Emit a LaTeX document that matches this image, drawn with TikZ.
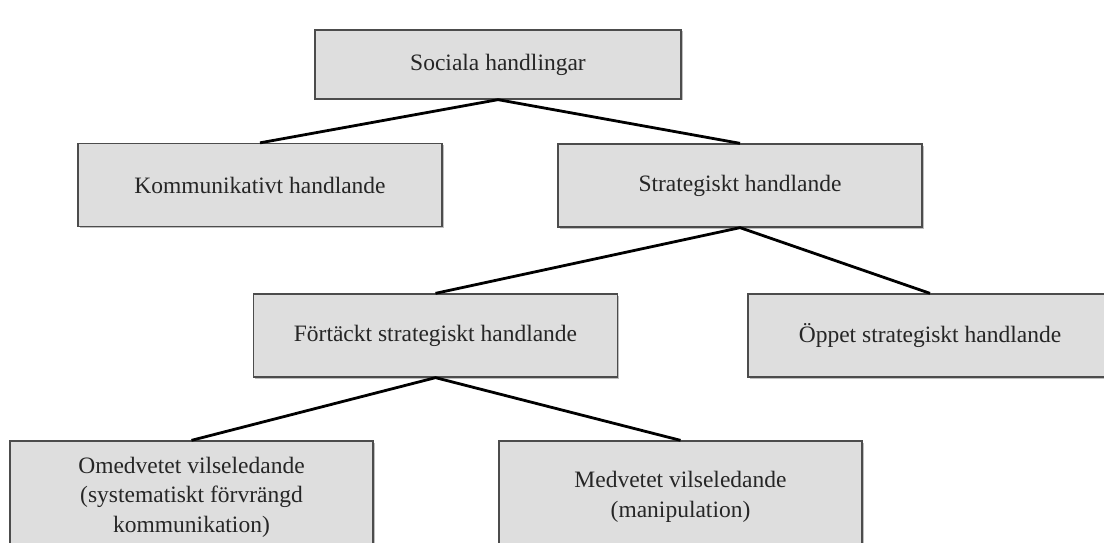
\documentclass[tikz,border=0pt]{standalone}
\usepackage{fontspec}
\setmainfont{Liberation Serif}
\usetikzlibrary{shadows}
\definecolor{boxgray}{HTML}{DEDEDE}
\begin{document}
\begin{tikzpicture}[x=1pt,y=-1pt,
  box/.style={draw=black!70, line width=1.3pt, fill=boxgray,
    minimum width=364pt, minimum height=83pt, inner sep=0pt, align=center,
    font=\fontsize{23.5}{29.5}\selectfont, text=black!85,
    drop shadow={shadow xshift=1.5pt, shadow yshift=-1.5pt, opacity=0.25, fill=black}},
  link/.style={line width=2.8pt, black}]
\useasboundingbox (0,0) rectangle (1104,543);
\clip (0,0) rectangle (1104,543);
\node[box, minimum width=366pt, minimum height=69pt] (soc) at (498,64.5) {Sociala handlingar};
\node[box] (kom) at (260,185) {Kommunikativt handlande};
\node[box] (str) at (740,185.5) {Strategiskt handlande};
\node[box] (fort) at (435.5,335.5) {Förtäckt strategiskt handlande};
\node[box] (opp) at (930,335.5) {Öppet strategiskt handlande};
\node[box, minimum width=363pt, minimum height=112pt] (omed) at (191.5,497) {Omedvetet vilseledande\\(systematiskt förvrängd\\kommunikation)};
\node[box, minimum width=363pt, minimum height=112pt] (med) at (680.5,497) {Medvetet vilseledande\\(manipulation)};
\draw[link] (kom.north) -- (soc.south) -- (str.north);
\draw[link] (fort.north) -- (str.south) -- (opp.north);
\draw[link] (omed.north) -- (fort.south) -- (med.north);
\end{tikzpicture}
\end{document}
